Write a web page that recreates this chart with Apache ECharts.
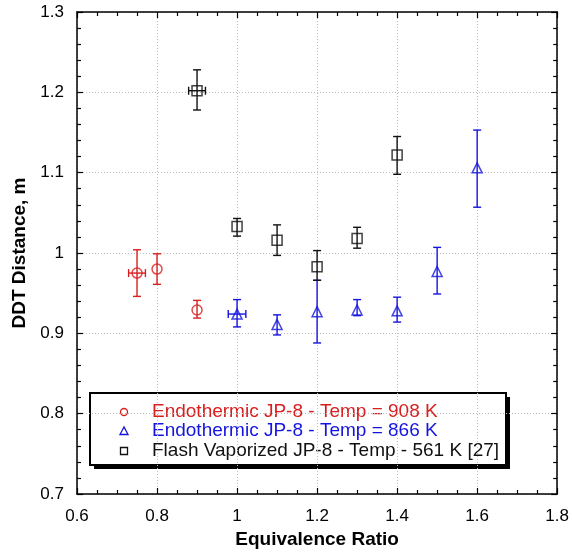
<!DOCTYPE html>
<html>
<head>
<meta charset="utf-8">
<script src="https://cdn.jsdelivr.net/npm/echarts@6/dist/echarts.min.js"></script>
<style>
html,body{margin:0;padding:0;background:#fff;}
#chart{width:572px;height:554px;}
</style>
</head>
<body>
<div id="chart"></div>
<script>
// ---- Data ----
const xTickLabels = ['0.6','0.8','1','1.2','1.4','1.6','1.8'];
const yTickLabels = ['0.7','0.8','0.9','1','1.1','1.2','1.3'];

const redName = 'Endothermic JP-8 - Temp = 908 K';
const redX    = [0.75, 0.80, 0.90];
const redY    = [0.975, 0.980, 0.929];
const redLow  = [0.946, 0.961, 0.919];
const redHigh = [1.004, 0.999, 0.941];
const redXErr = [0.021, 0, 0];

const blueName = 'Endothermic JP-8 - Temp = 866 K';
const blueX    = [1.0, 1.1, 1.2, 1.3, 1.4, 1.5, 1.6];
const blueY    = [0.924, 0.911, 0.927, 0.929, 0.928, 0.977, 1.106];
const blueLow  = [0.908, 0.898, 0.888, 0.922, 0.914, 0.949, 1.057];
const blueHigh = [0.942, 0.923, 0.966, 0.942, 0.945, 1.007, 1.153];
const blueXErr = [0.022, 0, 0, 0, 0, 0, 0];

const blackName = 'Flash Vaporized JP-8 - Temp - 561 K [27]';
const blackX    = [0.9, 1.0, 1.1, 1.2, 1.3, 1.4];
const blackY    = [1.202, 1.033, 1.016, 0.983, 1.018, 1.122];
const blackLow  = [1.178, 1.021, 0.997, 0.966, 1.006, 1.098];
const blackHigh = [1.228, 1.043, 1.035, 1.003, 1.032, 1.145];
const blackXErr = [0.021, 0, 0, 0, 0, 0];

// ---- Styles ----
const RED = '#d81e1e', BLUE = '#1414e0', BLACK = '#111111';
const FONT = '"Liberation Sans", Arial, sans-serif';

function zip(xs, ys, lo, hi, xe) {
  return xs.map((x, i) => [x, ys[i], lo[i], hi[i], xe[i]]);
}

function errRender(color) {
  return function (params, api) {
    const x = api.value(0), y = api.value(1), lo = api.value(2), hi = api.value(3), xe = api.value(4);
    const pLo = api.coord([x, lo]);
    const pHi = api.coord([x, hi]);
    const c = 4;
    const style = { stroke: color, lineWidth: 1.4 };
    const children = [
      { type: 'line', shape: { x1: pLo[0], y1: pLo[1], x2: pHi[0], y2: pHi[1] }, style },
      { type: 'line', shape: { x1: pLo[0] - c, y1: pLo[1], x2: pLo[0] + c, y2: pLo[1] }, style },
      { type: 'line', shape: { x1: pHi[0] - c, y1: pHi[1], x2: pHi[0] + c, y2: pHi[1] }, style }
    ];
    if (xe > 0) {
      const pL = api.coord([x - xe, y]);
      const pR = api.coord([x + xe, y]);
      children.push(
        { type: 'line', shape: { x1: pL[0], y1: pL[1], x2: pR[0], y2: pR[1] }, style },
        { type: 'line', shape: { x1: pL[0], y1: pL[1] - c, x2: pL[0], y2: pL[1] + c }, style },
        { type: 'line', shape: { x1: pR[0], y1: pR[1] - c, x2: pR[0], y2: pR[1] + c }, style }
      );
    }
    return { type: 'group', children };
  };
}

function errSeries(name, data, color) {
  return {
    type: 'custom', name: name + ' err', data, renderItem: errRender(color),
    encode: { x: 0, y: 1 }, z: 2, silent: true
  };
}
function markSeries(name, data, color, symbol, size) {
  return {
    type: 'scatter', name, data: data.map(d => [d[0], d[1]]), symbol, symbolSize: size,
    itemStyle: { color: 'rgba(0,0,0,0)', borderColor: color, borderWidth: 1.5 }, z: 3, silent: true
  };
}

const redData = zip(redX, redY, redLow, redHigh, redXErr);
const blueData = zip(blueX, blueY, blueLow, blueHigh, blueXErr);
const blackData = zip(blackX, blackY, blackLow, blackHigh, blackXErr);

const axisCommonX = {
  type: 'value', min: 0.6, max: 1.8, interval: 0.2,
  axisLine: { show: true, onZero: false, lineStyle: { color: '#000', width: 1.5 } },
  axisTick: { show: true, inside: true, length: 6, lineStyle: { color: '#000', width: 1.2 } },
  minorTick: { show: true, splitNumber: 4, length: 4, lineStyle: { color: '#000', width: 1.2 } }
};
const axisCommonY = {
  type: 'value', min: 0.7, max: 1.3, interval: 0.1,
  axisLine: { show: true, onZero: false, lineStyle: { color: '#000', width: 1.5 } },
  axisTick: { show: true, inside: true, length: 6, lineStyle: { color: '#000', width: 1.2 } },
  minorTick: { show: true, splitNumber: 5, length: 4, lineStyle: { color: '#000', width: 1.2 } }
};

function labelFmt(labels, min, step) {
  return function (v) {
    const i = Math.round((v - min) / step);
    return labels[i] !== undefined ? labels[i] : '';
  };
}

const chart = echarts.init(document.getElementById('chart'));

// Legend drawn with graphic elements
const LX = 90, LY = 393, LW = 416, LH = 72;
const rows = [
  { name: redName, color: RED, y: 412 },
  { name: blueName, color: BLUE, y: 431 },
  { name: blackName, color: BLACK, y: 451 }
];
const legendChildren = [
  { type: 'rect', shape: { x: LX + 4, y: LY + 4, width: LW, height: LH }, style: { fill: '#000' } },
  { type: 'rect', shape: { x: LX, y: LY, width: LW, height: LH }, style: { fill: '#fff', stroke: '#000', lineWidth: 2 } }
];
const ix = 124;
legendChildren.push(
  { type: 'circle', shape: { cx: ix, cy: rows[0].y, r: 3.5 }, style: { fill: 'none', stroke: RED, lineWidth: 1.3 } },
  { type: 'polygon', shape: { points: [[ix, rows[1].y - 4], [ix - 4, rows[1].y + 3.5], [ix + 4, rows[1].y + 3.5]] }, style: { fill: 'none', stroke: BLUE, lineWidth: 1.3 } },
  { type: 'rect', shape: { x: ix - 3.5, y: rows[2].y - 3.5, width: 7, height: 7 }, style: { fill: 'none', stroke: BLACK, lineWidth: 1.3 } }
);
rows.forEach(r => {
  legendChildren.push({
    type: 'text', style: { text: r.name, x: 152, y: r.y, fill: r.color, font: '19px ' + FONT, textVerticalAlign: 'middle', verticalAlign: 'middle' }
  });
});

chart.setOption({
  animation: false,
  backgroundColor: '#fff',
  grid: { left: 77, right: 11, top: 12, bottom: 59.5 },
  xAxis: [
    Object.assign({}, axisCommonX, {
      position: 'bottom',
      name: 'Equivalence Ratio', nameLocation: 'middle', nameGap: 36,
      nameTextStyle: { color: '#000', fontSize: 19, fontWeight: 'bold', fontFamily: FONT },
      axisLabel: { show: true, color: '#000', fontSize: 17, fontFamily: FONT, margin: 14, formatter: labelFmt(xTickLabels, 0.6, 0.2) },
      splitLine: { show: true, lineStyle: { color: '#bdbdbd', type: [1, 2], width: 1 } }
    }),
    Object.assign({}, axisCommonX, {
      position: 'top', axisLabel: { show: false }, splitLine: { show: false }
    })
  ],
  yAxis: [
    Object.assign({}, axisCommonY, {
      position: 'left',
      name: 'DDT Distance, m', nameLocation: 'middle', nameGap: 44,
      nameTextStyle: { color: '#000', fontSize: 19, fontWeight: 'bold', fontFamily: FONT },
      axisLabel: { show: true, color: '#000', fontSize: 17, fontFamily: FONT, margin: 13, formatter: labelFmt(yTickLabels, 0.7, 0.1) },
      splitLine: { show: true, lineStyle: { color: '#bdbdbd', type: [1, 2], width: 1 } }
    }),
    Object.assign({}, axisCommonY, {
      position: 'right', axisLabel: { show: false }, splitLine: { show: false }
    })
  ],
  graphic: [{ type: 'group', z: 100, children: legendChildren }],
  series: [
    errSeries(redName, redData, RED),
    errSeries(blueName, blueData, BLUE),
    errSeries(blackName, blackData, BLACK),
    markSeries(redName, redData, RED, 'circle', 10),
    markSeries(blueName, blueData, BLUE, 'triangle', 10),
    markSeries(blackName, blackData, BLACK, 'rect', 10)
  ]
});
</script>
</body>
</html>
